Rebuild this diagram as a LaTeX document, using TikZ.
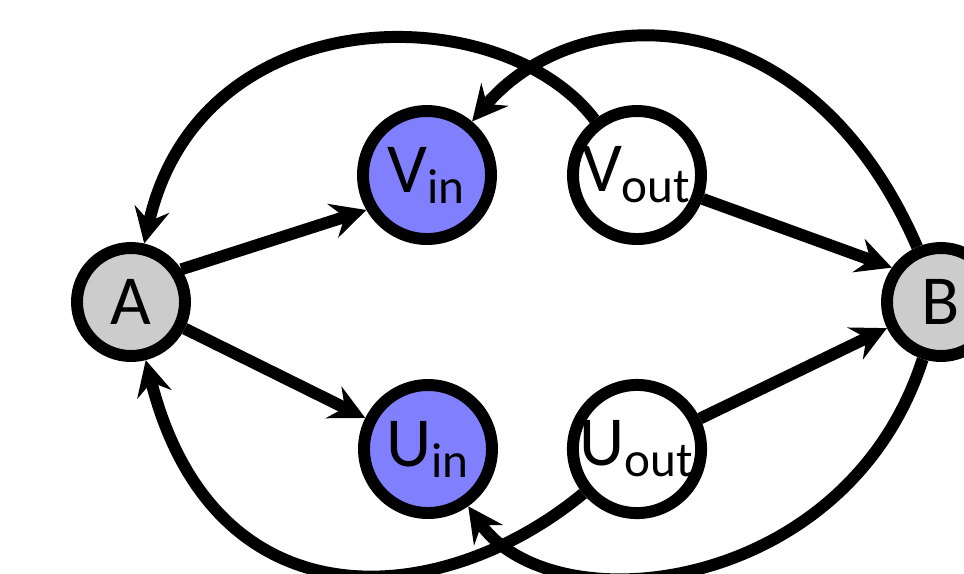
\documentclass[tikz,border=0pt]{standalone}
\usepackage{fontspec}
\setmainfont{Carlito}
\usepackage{tikz}
\usetikzlibrary{arrows.meta, positioning}

\definecolor{inblue}{HTML}{8080FF}
\definecolor{endgray}{HTML}{CCCCCC}

\begin{document}
\begin{tikzpicture}[
        >={Stealth[length=10pt, width=10pt, inset=3.5pt]},
        port/.style={circle, draw=black, line width=3.4pt, minimum size=1.28cm, inner sep=0pt, font=\fontsize{20}{24}\selectfont},
        inport/.style={port, fill=inblue},
        outport/.style={port, fill=white},
        terminal/.style={port, fill=endgray, minimum size=1.08cm},
        link/.style={->, line width=3.4pt}
    ]
        \useasboundingbox (0,-2.71) rectangle (9.64,3.02);
        \clip (0,-2.71) rectangle (9.64,3.02);

        % ================= TERMINALS =================
        \node[terminal] (A) at (1.31, 0) {A};
        \node[terminal] (B) at (9.41, 0) {B};

        % ================= PORTS =================
        \node[inport] (vin) at (4.27, 1.27) {V\textsubscript{in}};
        \node[outport] (vout) at (6.37, 1.27) {V\textsubscript{out}};
        \node[inport] (uin) at (4.28, -1.47) {U\textsubscript{in}};
        \node[outport] (uout) at (6.37, -1.47) {U\textsubscript{out}};

        % straight links
        \draw[link] (A.33) -- (vin.210);
        \draw[link] (A) -- (uin);
        \draw[link] (vout.-20) -- (B.145);
        \draw[link] (uout) -- (B);

        % return arcs (they leave the frame at the bottom)
        \draw[link] (vout) .. controls (5.00, 3.06) and (2.00, 3.06) .. (A);
        \draw[link] (B) .. controls (8.07, 3.09) and (5.77, 3.05) .. (vin);
        \draw[link] (uout) .. controls (4.41, -3.09) and (2.14, -3.27) .. (A);
        \draw[link] (B) .. controls (8.47, -2.93) and (5.53, -3.25) .. (uin);
    \end{tikzpicture}
\end{document}
